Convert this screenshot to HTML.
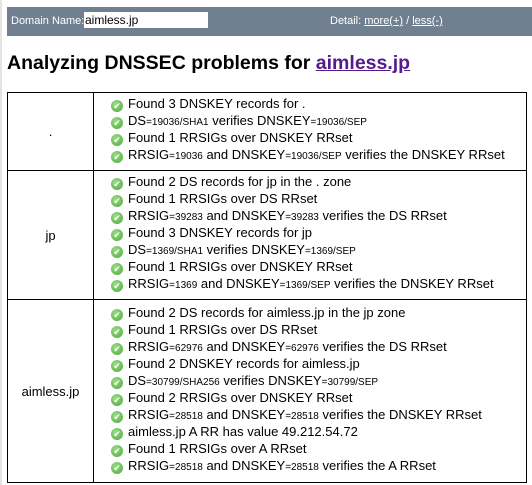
<!DOCTYPE html>
<html><head><style>
body{margin:0;width:532px;height:485px;background:#fff;font-family:"Liberation Sans",Arial,sans-serif;position:relative;overflow:hidden}
.edge{position:absolute;left:0;top:0;width:2px;height:485px;background:#e4e4e4}
.bar{position:absolute;left:7px;top:7px;width:525px;height:29px;background:#708090;color:#fff;font-size:11px}
.bar .l{position:absolute;left:4px;top:8px}
.bar input{position:absolute;left:77px;top:5px;width:124px;height:16px;border:0;padding:0 1px;font:12px "Liberation Sans",sans-serif;box-sizing:border-box}
.bar .r{position:absolute;left:323px;top:8px}
.bar u{color:#fff}
h1{position:absolute;left:7px;top:52px;margin:0;font-size:19.5px;font-weight:bold;color:#000;white-space:nowrap}
h1 a{color:#551a8b;text-decoration:underline}
table{position:absolute;left:7px;top:92px;width:520px;border-collapse:collapse;font-size:13px}
td{border:1px solid #000;padding:0}
td.n{width:85px;text-align:center}
td.c{padding:1px 0 6px 17px;vertical-align:middle}
.i{height:17px;line-height:17px;white-space:nowrap}
.i:before{content:"✔";display:inline-block;width:12px;height:12px;border-radius:50%;background:radial-gradient(circle at 40% 35%,#9fdc8a,#4aa83a);color:#fff;font-size:9px;line-height:12px;text-align:center;margin-right:5px;vertical-align:-1px}
small{font-size:10px}
</style></head><body>
<div class="edge"></div>
<div class="bar"><span class="l">Domain Name:</span><input value="aimless.jp"><span class="r">Detail: <u>more(+)</u> / <u>less(-)</u></span></div>
<h1>Analyzing DNSSEC problems for <a>aimless.jp</a></h1>
<table>
<tr style="height:78px"><td class="n">.</td><td class="c">
<div class="i">Found 3 DNSKEY records for .</div>
<div class="i">DS<small>=19036/SHA1</small> verifies DNSKEY<small>=19036/SEP</small></div>
<div class="i">Found 1 RRSIGs over DNSKEY RRset</div>
<div class="i">RRSIG<small>=19036</small> and DNSKEY<small>=19036/SEP</small> verifies the DNSKEY RRset</div>
</td></tr>
<tr style="height:129px"><td class="n">jp</td><td class="c">
<div class="i">Found 2 DS records for jp in the . zone</div>
<div class="i">Found 1 RRSIGs over DS RRset</div>
<div class="i">RRSIG<small>=39283</small> and DNSKEY<small>=39283</small> verifies the DS RRset</div>
<div class="i">Found 3 DNSKEY records for jp</div>
<div class="i">DS<small>=1369/SHA1</small> verifies DNSKEY<small>=1369/SEP</small></div>
<div class="i">Found 1 RRSIGs over DNSKEY RRset</div>
<div class="i">RRSIG<small>=1369</small> and DNSKEY<small>=1369/SEP</small> verifies the DNSKEY RRset</div>
</td></tr>
<tr style="height:183px"><td class="n">aimless.jp</td><td class="c">
<div class="i">Found 2 DS records for aimless.jp in the jp zone</div>
<div class="i">Found 1 RRSIGs over DS RRset</div>
<div class="i">RRSIG<small>=62976</small> and DNSKEY<small>=62976</small> verifies the DS RRset</div>
<div class="i">Found 2 DNSKEY records for aimless.jp</div>
<div class="i">DS<small>=30799/SHA256</small> verifies DNSKEY<small>=30799/SEP</small></div>
<div class="i">Found 2 RRSIGs over DNSKEY RRset</div>
<div class="i">RRSIG<small>=28518</small> and DNSKEY<small>=28518</small> verifies the DNSKEY RRset</div>
<div class="i">aimless.jp A RR has value 49.212.54.72</div>
<div class="i">Found 1 RRSIGs over A RRset</div>
<div class="i">RRSIG<small>=28518</small> and DNSKEY<small>=28518</small> verifies the A RRset</div>
</td></tr>
</table>
</body></html>
